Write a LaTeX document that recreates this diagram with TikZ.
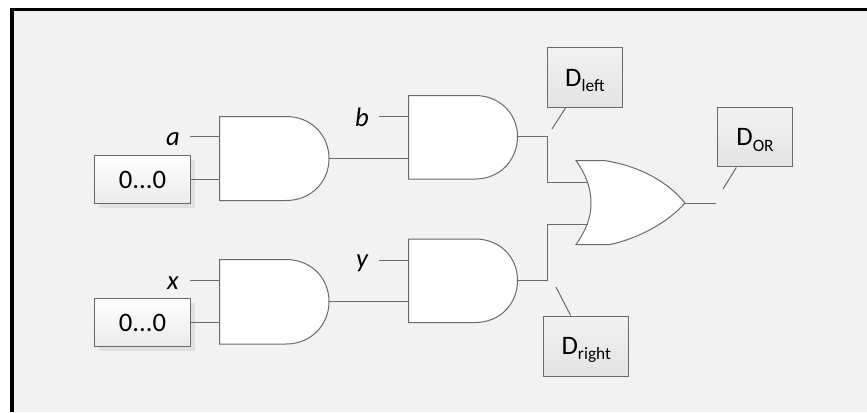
\documentclass[tikz,border=0pt]{standalone}
\usepackage{fontspec}
\setmainfont{Carlito}
\usepackage{tikz}
\usetikzlibrary{shadows}
\newcommand{\dsub}[1]{\smash{\raisebox{-0.2em}{\fontsize{13}{14}\selectfont #1}}}
\definecolor{panelgray}{HTML}{F2F2F2}
\definecolor{wiregray}{HTML}{6A6A6A}
\tikzset{
  gatebody/.style={fill=white,draw=wiregray,line width=0.75pt},
  wire/.style={draw=wiregray,line width=0.75pt},
  zerobox/.style={draw=wiregray,line width=0.75pt,top color=white,bottom color=black!8,minimum width=72pt,minimum height=36pt,inner sep=0pt,font=\fontsize{20}{24}\selectfont,general shadow={fill=black!12,shadow xshift=3pt,shadow yshift=-3pt}},
  dbox/.style={draw=wiregray,line width=0.75pt,top color=panelgray,bottom color=black!11,inner sep=0pt,font=\fontsize{20}{24}\selectfont},
  varlabel/.style={inner sep=0pt,font=\fontsize{20}{24}\selectfont\itshape}
}
\begin{document}
\begin{tikzpicture}[x=0.75pt,y=-0.75pt]
 \useasboundingbox (0,0) rectangle (867,412);
  \fill[white] (0,0) rectangle (867,412);
  \fill[panelgray] (14,11) rectangle (867,412);
  \fill[black] (10,8) rectangle (867,11);
  \fill[black] (10,8) rectangle (14,412);
%upper left gate
  \draw[gatebody] (219.5,116.5) -- (286,116.5) .. controls (311,116.5) and (329,135) .. (329,158.5) .. controls (329,182) and (311,200.5) .. (286,200.5) -- (219.5,200.5) -- cycle;
  \coordinate (andAin) at (219.5,136.5);
  \coordinate (andAzero) at (219.5,179.5);
  \coordinate (andAout) at (329,158.5);
%lower left gate
  \draw[gatebody] (219.5,259.5) -- (286,259.5) .. controls (311,259.5) and (329,278) .. (329,301.5) .. controls (329,325) and (311,344) .. (286,344) -- (219.5,344) -- cycle;
  \coordinate (andXin) at (219.5,280.5);
  \coordinate (andXzero) at (219.5,322.5);
  \coordinate (andXout) at (329,301.5);
%upper right gate
  \draw[gatebody] (408.5,95.5) -- (475,95.5) .. controls (500,95.5) and (517.5,114) .. (517.5,136.5) .. controls (517.5,160) and (500,179) .. (475,179) -- (408.5,179) -- cycle;
  \coordinate (andBin) at (408.5,116.5);
  \coordinate (andBa) at (408.5,158.5);
  \coordinate (andBout) at (517.5,136.5);
%lower right gate
  \draw[gatebody] (408.5,239) -- (475,239) .. controls (500,239) and (517.5,257) .. (517.5,280.5) .. controls (517.5,304) and (500,322.5) .. (475,322.5) -- (408.5,322.5) -- cycle;
  \coordinate (andYin) at (408.5,260.5);
  \coordinate (andYx) at (408.5,301.5);
  \coordinate (andYout) at (517.5,280.5);
%or gate
  \draw[gatebody] (576,160.5) -- (604,160.5) .. controls (640,166) and (668,182) .. (685,203) .. controls (668,222) and (640,238) .. (610,244.5) -- (576,244.5) .. controls (586,230) and (591,218) .. (591,203) .. controls (591,188) and (586,175) .. cycle;
  \coordinate (orUp) at (588,182.5);
  \coordinate (orDown) at (588,224.5);
  \coordinate (orOut) at (685,203.5);
%boxes
  \node[zerobox] (zeroA) at (142.5,179.5) {0...0};
  \node[zerobox] (zeroX) at (142.5,322.5) {0...0};
  \node[dbox,minimum width=56pt,minimum height=45pt] (Dleft) at (585,77.5) {D\dsub{left}};
  \node[dbox,minimum width=56pt,minimum height=44.5pt] (Dor) at (755,137.25) {D\dsub{OR}};
  \node[dbox,minimum width=64pt,minimum height=45pt] (Dright) at (586.25,346) {D\dsub{right}};
%labels
  \node[varlabel] (a) at (173,139) {a};
  \node[varlabel] (b) at (362,117) {b};
  \node[varlabel] (x) at (173,283) {x};
  \node[varlabel] (y) at (362,263) {y};
%free ends
  \coordinate (aEnd) at (190,136.5);
  \coordinate (bEnd) at (379,116.5);
  \coordinate (xEnd) at (190,280.5);
  \coordinate (yEnd) at (379,260.5);
  \coordinate (orEnd) at (716,203.5);
  \coordinate (leftTip) at (552,129);
  \coordinate (rightTip) at (556,287);
  \coordinate (orTip) at (723,189);
%wires
  \draw[wire] (aEnd) -- (andAin);
  \draw[wire] (bEnd) -- (andBin);
  \draw[wire] (xEnd) -- (andXin);
  \draw[wire] (yEnd) -- (andYin);
  \draw[wire] (zeroA.east) -- (andAzero);
  \draw[wire] (zeroX.east) -- (andXzero);
  \draw[wire] (andAout) -- (andBa);
  \draw[wire] (andXout) -- (andYx);
  \draw[wire] (andBout) -- (547.5,136.5) -- (547.5,182.5) -- (orUp);
  \draw[wire] (andYout) -- (547.5,280.5) -- (547.5,224.5) -- (orDown);
  \draw[wire] (orOut) -- (orEnd);
  \draw[wire] (Dleft) -- (leftTip);
  \draw[wire] (Dright) -- (rightTip);
  \draw[wire] (Dor) -- (orTip);
\end{tikzpicture}
\end{document}
